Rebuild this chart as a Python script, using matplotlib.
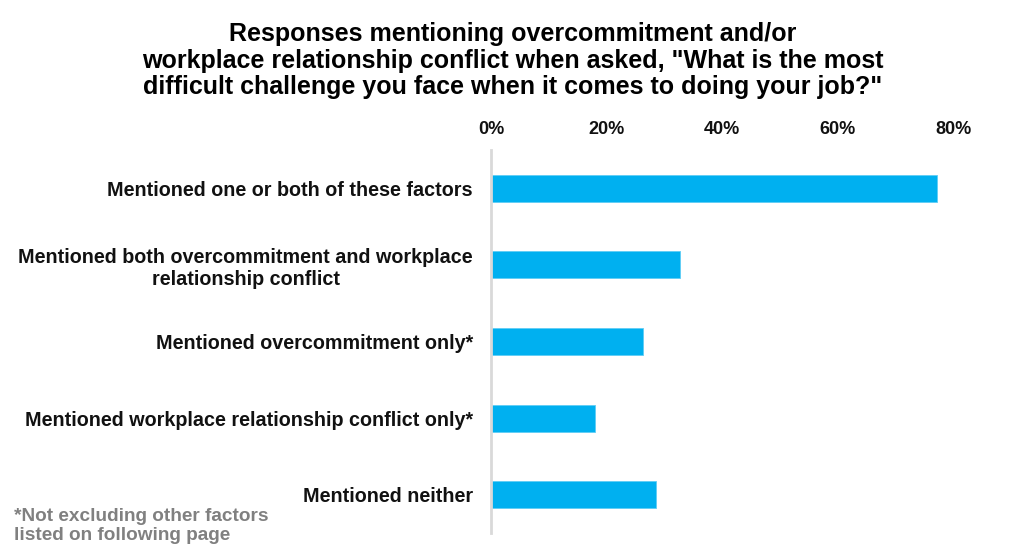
import matplotlib.pyplot as plt
from matplotlib.ticker import PercentFormatter

categories = [
    "Mentioned one or both of these factors",
    "Mentioned both overcommitment and workplace\nrelationship conflict",
    "Mentioned overcommitment only*",
    "Mentioned workplace relationship conflict only*",
    "Mentioned neither",
]
values = [77.3, 32.8, 26.4, 18.0, 28.5]
ticks = [0, 20, 40, 60, 80]

TITLE = ('Responses mentioning overcommitment and/or\n'
         'workplace relationship conflict when asked, "What is the most\n'
         'difficult challenge you face when it comes to doing your job?"')
NOTE = "*Not excluding other factors\nlisted on following page"

plt.rcParams["font.family"] = ["Liberation Sans", "DejaVu Sans"]

fig = plt.figure(figsize=(10.24, 5.57), dpi=100)
ax = fig.add_axes([0.4795, 0.0431, 0.4512, 0.6876])

pos = list(range(len(categories)))
ax.barh(pos, values, height=0.35, color="#00B0F0", edgecolor="#5fcdf5", linewidth=0.6)
ax.set_ylim(len(categories) - 0.5, -0.5)
ax.set_xlim(0, 80)

ax.set_xticks(ticks)
ax.xaxis.set_major_formatter(PercentFormatter(decimals=0))
ax.xaxis.tick_top()
ax.tick_params(axis="x", length=0, pad=9, labelsize=13, labelcolor="#111111")
for lbl in ax.get_xticklabels():
    lbl.set_fontweight("bold")

ax.set_yticks(pos)
ax.set_yticklabels(categories, fontsize=14.2, fontweight="bold", color="#111111")
for lbl in ax.get_yticklabels():
    lbl.set_multialignment("center")
ax.tick_params(axis="y", length=0, pad=13)

for side in ["top", "right", "bottom"]:
    ax.spines[side].set_visible(False)
ax.spines["left"].set_color("#d9d9d9")
ax.spines["left"].set_linewidth(2)

fig.text(0.501, 0.96, TITLE, ha="center", va="top", fontsize=18, fontweight="bold",
         linespacing=1.13)
fig.text(0.014, 0.088, NOTE, ha="left", va="top", fontsize=13.7, fontweight="bold",
         color="#808080", linespacing=1.18)

fig.savefig("out.png", dpi=100)
